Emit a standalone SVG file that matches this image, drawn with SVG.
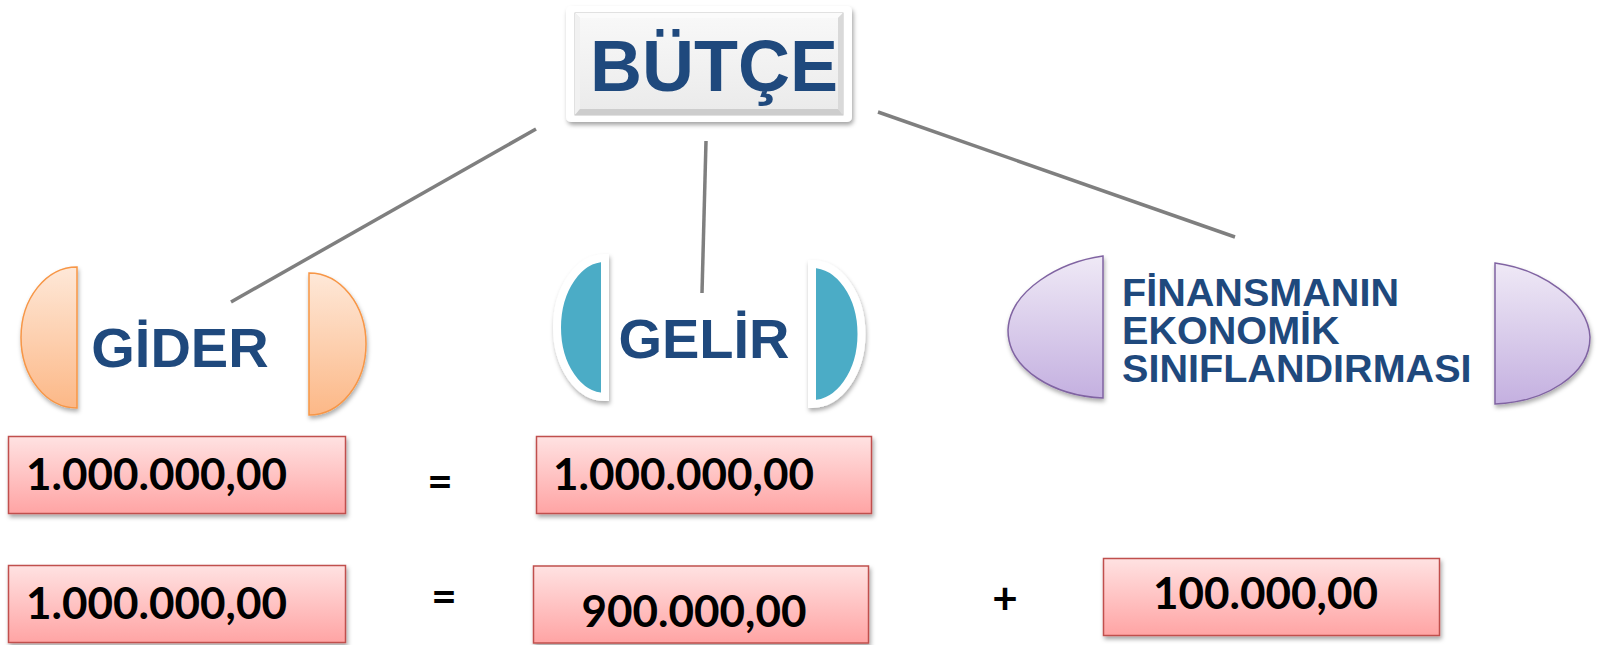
<svg xmlns="http://www.w3.org/2000/svg" width="1604" height="645" viewBox="0 0 1604 645">
<defs>
<linearGradient id="gPink" x1="0" y1="0" x2="0" y2="1"><stop offset="0" stop-color="#ffe2e2"/><stop offset="1" stop-color="#ffa4a4"/></linearGradient>
<linearGradient id="gOrange" x1="0" y1="0" x2="0" y2="1"><stop offset="0" stop-color="#fee8d8"/><stop offset="1" stop-color="#fcb887"/></linearGradient>
<linearGradient id="gPurple" x1="0" y1="0" x2="0" y2="1"><stop offset="0" stop-color="#efe9f6"/><stop offset="1" stop-color="#c4b0e0"/></linearGradient>
<linearGradient id="gFace" x1="0" y1="0" x2="0" y2="1"><stop offset="0" stop-color="#f8f8f8"/><stop offset="1" stop-color="#ebebeb"/></linearGradient>
<filter id="sh" x="-20%" y="-20%" width="140%" height="150%"><feDropShadow dx="1.5" dy="3" stdDeviation="2" flood-color="#000" flood-opacity="0.35"/></filter>
<filter id="shS" x="-20%" y="-20%" width="140%" height="150%"><feDropShadow dx="1" dy="3" stdDeviation="2.2" flood-color="#000" flood-opacity="0.32"/></filter>
</defs>
<style>
.blue{font-family:"Liberation Sans",Arial,sans-serif;font-weight:bold;fill:#1f497d}
.num{font-family:Lato,"Liberation Sans",sans-serif;font-weight:bold;font-size:44px;fill:#000;text-anchor:middle}
.box{fill:url(#gPink);stroke:#c0504d;stroke-width:1.5;filter:url(#sh)}
.or{fill:url(#gOrange);stroke:#f79646;stroke-width:1.5;filter:url(#shS)}
.te{fill:#4bacc6;stroke:#fff;stroke-width:8;filter:url(#shS)}
.pu{fill:url(#gPurple);stroke:#8064a2;stroke-width:1.5;filter:url(#shS)}
.con line{stroke:#7f7f7f;stroke-width:3.5}
</style>
<rect width="1604" height="645" fill="#fff"/>
<g class="con" id="connectors">
<line x1="536" y1="129" x2="231" y2="302"/>
<line x1="706" y1="141" x2="702" y2="293"/>
<line x1="878" y1="112" x2="1235" y2="237"/>
</g>
<g id="butce">
<rect x="566" y="6" width="286" height="116" rx="5" fill="#fff" filter="url(#sh)"/>
<rect x="575" y="13" width="268" height="102" fill="#e6e6e6" stroke="#c4c4c4" stroke-width="1"/>
<polygon points="575,13 843,13 838,18 580,18" fill="#fbfbfb"/>
<polygon points="575,13 580,18 580,109 575,115" fill="#f1f1f1"/>
<polygon points="843,13 843,115 838,109 838,18" fill="#d9d9d9"/>
<polygon points="575,115 843,115 838,109 580,109" fill="#cdcdcd"/>
<rect x="580" y="18" width="258" height="91" fill="url(#gFace)"/>
<text class="blue" x="714" y="91" font-size="72" text-anchor="middle">BÜTÇE</text>
</g>
<g id="gider">
<path class="or" d="M77,267 A56,70.5 0 0 0 77,408 Z"/>
<path class="or" d="M309,273 A57,71 0 0 1 309,415 Z"/>
<text class="blue" x="180" y="367" font-size="56" text-anchor="middle">GİDER</text>
</g>
<g id="gelir">
<path class="te" d="M605,258 A48,69.5 0 0 0 605,397 Z"/>
<path class="te" d="M812,264 A49.5,70 0 0 1 812,404 Z"/>
<text class="blue" x="704" y="358" font-size="56" text-anchor="middle">GELİR</text>
</g>
<g id="finansman">
<path class="pu" d="M1103,256 C1060,262 1010,290 1008,330 C1008,370 1055,396 1103,398 Z"/>
<path class="pu" d="M1495,263 C1540,269 1588,300 1590,337 C1590,375 1545,402 1495,404 Z"/>
<text class="blue" font-size="39.6"><tspan x="1122" y="306">FİNANSMANIN</tspan><tspan x="1122" y="344">EKONOMİK</tspan><tspan x="1122" y="382">SINIFLANDIRMASI</tspan></text>
</g>
<g id="r1b1"><rect class="box" x="8.5" y="436.5" width="337" height="77"/><text class="num" x="156.5" y="490">1.000.000,00</text></g>
<g id="r1eq"><text class="num" x="440" y="497">=</text></g>
<g id="r1b2"><rect class="box" x="536.5" y="436.5" width="335" height="77"/><text class="num" x="683.5" y="490">1.000.000,00</text></g>
<g id="r2b1"><rect class="box" x="8.5" y="565.5" width="337" height="77"/><text class="num" x="156.5" y="619">1.000.000,00</text></g>
<g id="r2eq"><text class="num" x="444" y="612">=</text></g>
<g id="r2b2"><rect class="box" x="533.5" y="566" width="335" height="77"/><text class="num" x="694" y="627">900.000,00</text></g>
<g id="r2plus"><text class="num" x="1005" y="614">+</text></g>
<g id="r2b3"><rect class="box" x="1103.5" y="558.5" width="336" height="77"/><text class="num" x="1265.5" y="609">100.000,00</text></g>
</svg>
